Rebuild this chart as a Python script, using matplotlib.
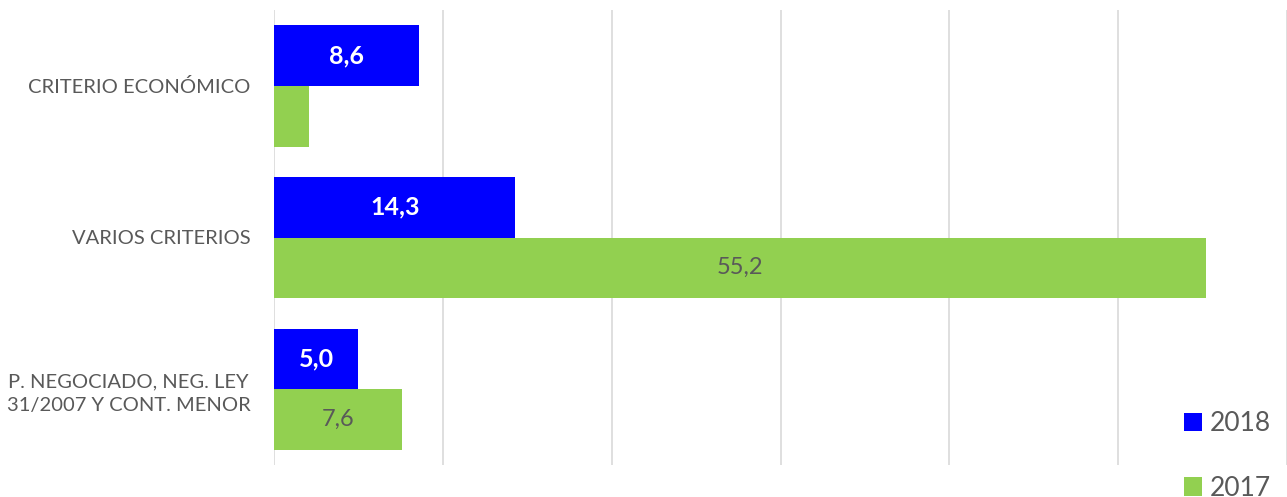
import matplotlib
matplotlib.use("Agg")
import matplotlib.pyplot as plt
import numpy as np

plt.rcParams['font.family'] = ['Lato', 'DejaVu Sans']

categories = ["CRITERIO ECONÓMICO", "VARIOS CRITERIOS",
              "P. NEGOCIADO, NEG. LEY\n31/2007 Y CONT. MENOR"]
values_2018 = [8.6, 14.3, 5.0]
values_2017 = [2.1, 55.2, 7.6]
labels_2017 = ["", "55,2", "7,6"]

blue = "#0000FF"
green = "#92D050"
grey_text = "#595959"

fig = plt.figure(figsize=(12.87, 4.97), dpi=100)
ax = fig.add_axes([274 / 1287, 1 - 465 / 497, 1 - 274 / 1287, 455 / 497])

y = np.arange(len(categories))
h = 0.4
b18 = ax.barh(y - h / 2, values_2018, height=h, color=blue, label="2018")
b17 = ax.barh(y + h / 2, values_2017, height=h, color=green, label="2017")

ax.bar_label(b18, labels=[f"{v:.1f}".replace(".", ",") for v in values_2018],
             label_type="center", color="white", fontsize=18, fontweight="bold")
ax.bar_label(b17, labels=labels_2017, label_type="center",
             color=grey_text, fontsize=17)

ax.set_xlim(0, 60)
ax.set_ylim(2.5, -0.5)
ax.set_xticks(np.arange(0, 61, 10))
ax.set_xticklabels([])
ax.set_yticks(y)
ax.set_yticklabels(categories, fontsize=14.5, color=grey_text, linespacing=1.45)
for lbl in ax.get_yticklabels():
    lbl.set_multialignment("center")
ax.tick_params(axis="both", length=0)
ax.tick_params(axis="y", pad=17)
ax.grid(axis="x", color="#D9D9D9", linewidth=1.2)
ax.set_axisbelow(True)
for s in ax.spines.values():
    s.set_visible(False)

fig.legend(handles=[b18, b17], loc="lower left",
           bbox_to_anchor=(1160 / 1287, -0.055), frameon=False,
           fontsize=19, labelcolor=grey_text, handlelength=0.7,
           handleheight=0.7, handletextpad=0.3, labelspacing=1.5)

fig.savefig("out.png", dpi=100, facecolor="white")
